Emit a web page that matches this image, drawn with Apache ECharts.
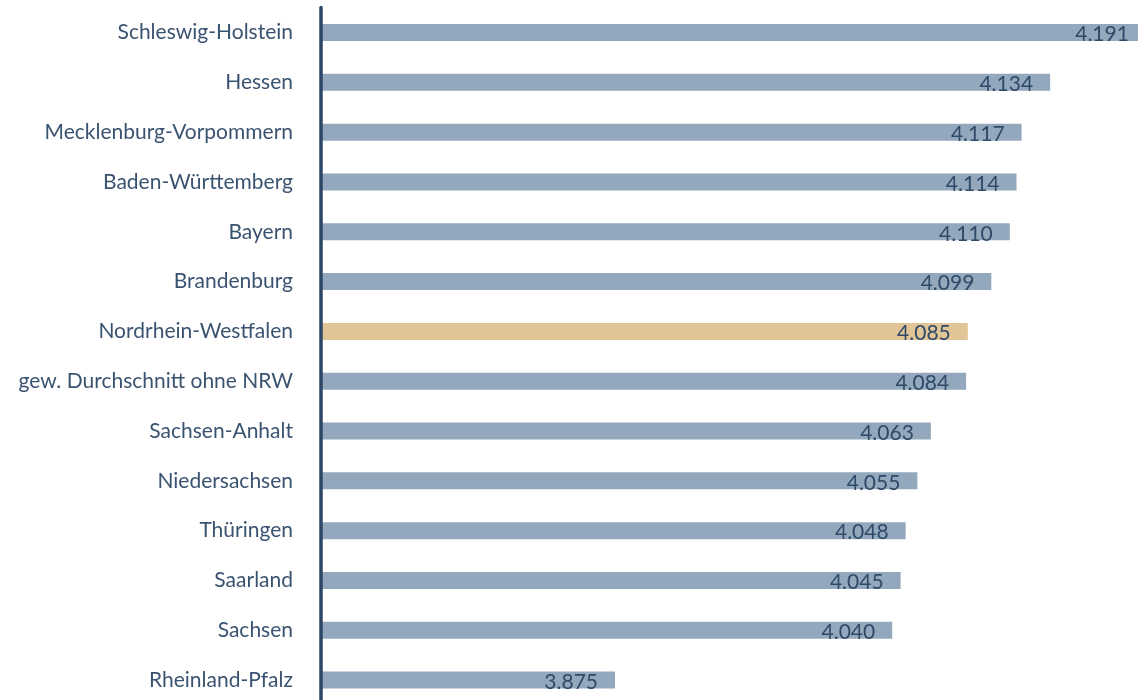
<!DOCTYPE html>
<html>
<head>
<meta charset="utf-8">
<style>
  html, body { margin: 0; padding: 0; background: #fff; }
  #chart { width: 1138px; height: 700px; }
</style>
<script src="https://cdn.jsdelivr.net/npm/echarts@6/dist/echarts.min.js"></script>
</head>
<body>
<div id="chart"></div>
<script>
// Bundesländer, von oben nach unten
var laender = [
  'Schleswig-Holstein', 'Hessen', 'Mecklenburg-Vorpommern', 'Baden-Württemberg',
  'Bayern', 'Brandenburg', 'Nordrhein-Westfalen', 'gew. Durchschnitt ohne NRW',
  'Sachsen-Anhalt', 'Niedersachsen', 'Thüringen', 'Saarland', 'Sachsen', 'Rheinland-Pfalz'
];
var werte = [4.191, 4.134, 4.117, 4.114, 4.110, 4.099, 4.085, 4.084,
  4.063, 4.055, 4.048, 4.045, 4.040, 3.875];
var hervorgehoben = 'Nordrhein-Westfalen';

var farbeBalken = '#93a8bc';
var farbeNRW = '#e1c596';
var farbeText = '#2f4a68';

var daten = [];
for (var i = 0; i < werte.length; i++) {
  var item = { value: werte[i] };
  if (laender[i] == hervorgehoben) {
    item.itemStyle = { color: farbeNRW };
  }
  daten.push(item);
}

var myChart = echarts.init(document.getElementById('chart'));
myChart.setOption({
  animation: false,
  grid: {
    left: 321,
    right: -23,
    top: 7.6,
    bottom: -5,
    outerBoundsMode: 'none',
    containLabel: false
  },
  xAxis: {
    type: 'value',
    min: 3.7,
    max: 4.2,
    show: false,
    splitLine: { show: false }
  },
  yAxis: {
    type: 'category',
    inverse: true,
    z: 5,
    data: laender,
    axisLine: { show: true, lineStyle: { color: '#2d4665', width: 3.5 } },
    axisTick: { show: false },
    axisLabel: {
      margin: 28,
      fontFamily: 'Lato',
      fontSize: 21,
      color: '#3a5370'
    }
  },
  series: [{
    type: 'bar',
    data: daten,
    barWidth: 17,
    itemStyle: { color: farbeBalken },
    label: {
      show: true,
      position: 'insideRight',
      distance: 17,
      fontFamily: 'Lato',
      fontSize: 21,
      color: farbeText,
      offset: [0, 2],
      formatter: function (p) { return p.value.toFixed(3); }
    }
  }]
});
</script>
</body>
</html>
